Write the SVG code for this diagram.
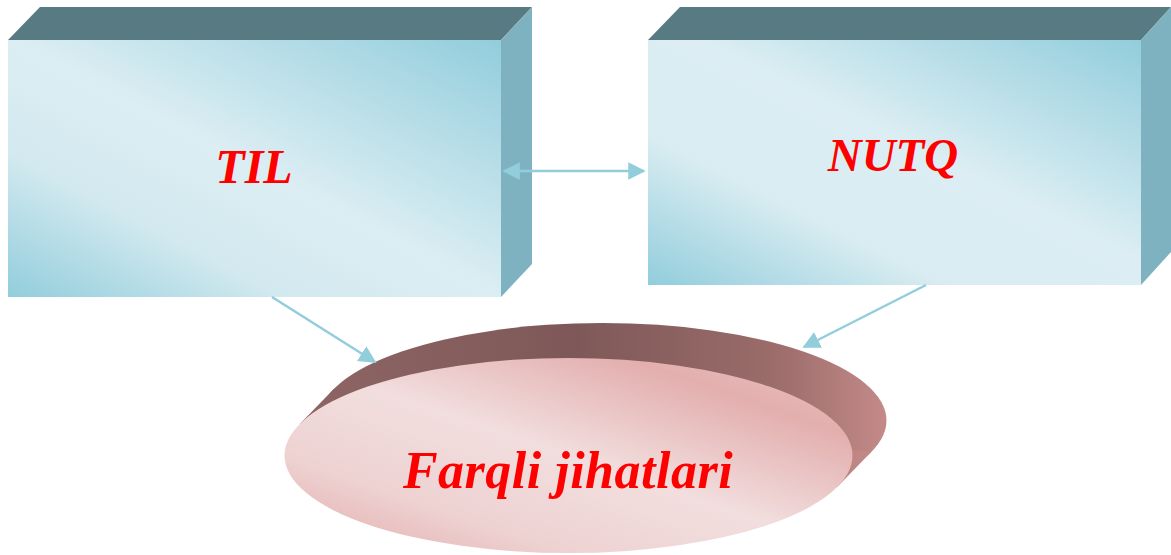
<svg xmlns="http://www.w3.org/2000/svg" width="1171" height="555" viewBox="0 0 1171 555">
<style>
.top{fill:#587A82}
.side{fill:#7FB2C0}
.lbl{font-family:"Liberation Serif","Times New Roman",serif;font-weight:bold;font-style:italic;fill:#FF0000;text-anchor:middle}
.conn{stroke:#92CDDC;stroke-width:2.5;fill:none}
</style>
<defs>
<linearGradient id="boxg" x1="1" y1="0" x2="0" y2="1">
<stop offset="0" stop-color="#92CDDC"/>
<stop offset="0.5" stop-color="#DCEEF3"/>
<stop offset="0.72" stop-color="#D2E9EF"/>
<stop offset="1" stop-color="#92CDDC"/>
</linearGradient>
<linearGradient id="boxg2" x1="1" y1="0" x2="0" y2="1">
<stop offset="0" stop-color="#92CDDC"/>
<stop offset="0.45" stop-color="#DCEEF3"/>
<stop offset="0.7" stop-color="#D8ECF1"/>
<stop offset="1" stop-color="#92CDDC"/>
</linearGradient>
<linearGradient id="ellg" x1="0" y1="1" x2="1" y2="0">
<stop offset="0" stop-color="#E2A8A8"/>
<stop offset="0.25" stop-color="#EED2D2"/>
<stop offset="0.5" stop-color="#F2DEDE"/>
<stop offset="0.8" stop-color="#E3AEAE"/>
<stop offset="1" stop-color="#ECC6C6"/>
</linearGradient>
<linearGradient id="extg" x1="0" y1="0" x2="1" y2="0">
<stop offset="0" stop-color="#8E6464"/>
<stop offset="0.45" stop-color="#7E5858"/>
<stop offset="0.8" stop-color="#9A6C6A"/>
<stop offset="1" stop-color="#C48A88"/>
</linearGradient>
<marker id="ah" viewBox="0 0 10 10" refX="9" refY="5" markerWidth="7" markerHeight="7" orient="auto-start-reverse" markerUnits="strokeWidth">
<path d="M0,0 L10,5 L0,10 z" fill="#92CDDC"/>
</marker>
</defs>

<g id="node-til">
<polygon class="top" points="8,40 40,7 532,7 501,40"/>
<polygon class="side" points="501,40 532,7 532,264 501,297"/>
<rect x="8" y="40" width="493" height="257" fill="url(#boxg)"/>
<text class="lbl" x="254" y="183" font-size="48">TIL</text>
</g>

<g id="node-nutq">
<polygon class="top" points="648,40 680,7 1171,7 1141,40"/>
<polygon class="side" points="1141,40 1171,7 1171,252 1141,285"/>
<rect x="648" y="40" width="493" height="245" fill="url(#boxg2)"/>
<text class="lbl" x="893" y="171" font-size="47">NUTQ</text>
</g>

<g id="node-farqli">
<ellipse cx="602.5" cy="420.5" rx="284" ry="97.5" fill="url(#extg)"/>
<polygon points="299.8,424.1 333.8,389.1 871.2,451.9 837.2,486.9" fill="url(#extg)"/>
<ellipse cx="568.5" cy="455.5" rx="284" ry="97.5" fill="url(#ellg)"/>
<text class="lbl" x="568" y="488" font-size="52" letter-spacing="0.5">Farqli jihatlari</text>
</g>

<g id="connectors">
<line class="conn" x1="504" y1="171" x2="644" y2="171" marker-start="url(#ah)" marker-end="url(#ah)"/>
<line class="conn" x1="272" y1="297" x2="375" y2="362" marker-end="url(#ah)"/>
<line class="conn" x1="926" y1="285" x2="804" y2="347" marker-end="url(#ah)"/>
</g>
</svg>
